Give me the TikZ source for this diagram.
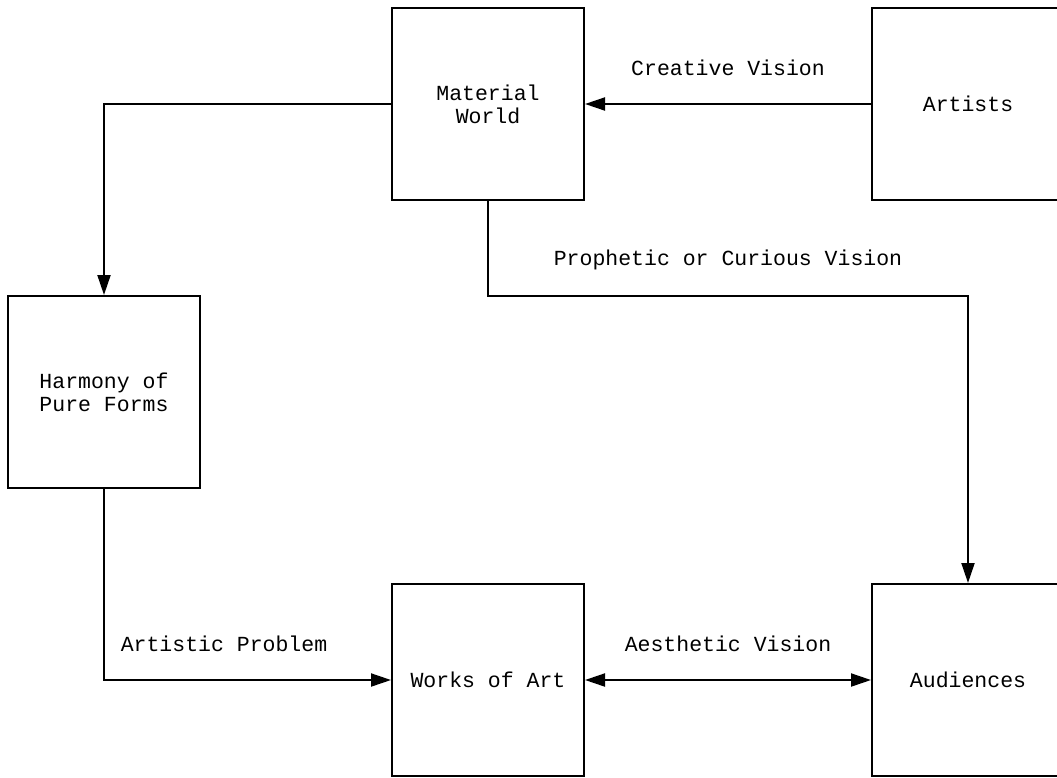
\documentclass[tikz,border=0pt]{standalone}
\usepackage{fontspec}
\setmonofont{Liberation Mono}
\usetikzlibrary{arrows.meta}
\begin{document}
\begin{tikzpicture}[x=1pt,y=-1pt,
  box/.style={draw,line width=2pt,minimum width=192pt,minimum height=192pt,inner sep=0pt,align=center,font=\ttfamily\fontsize{21.5}{23}\selectfont},
  lbl/.style={font=\ttfamily\fontsize{21.5}{23}\selectfont,inner sep=0pt},
  conn/.style={line width=2pt,-{Triangle[length=20pt,width=13pt]}},
  conn2/.style={line width=2pt,{Triangle[length=20pt,width=13pt]}-{Triangle[length=20pt,width=13pt]}}]
\path[use as bounding box,fill=white] (0,0) rectangle (1057,777);
\begin{scope}
\clip (0,0) rectangle (1057,777);
\node[box] (mw) at (488,104) {Material\\World};
\node[box] (ar) at (968,104) {Artists};
\node[box] (hp) at (104,392) {Harmony of\\Pure Forms};
\node[box] (wa) at (488,680) {Works of Art};
\node[box] (au) at (968,680) {Audiences};
\end{scope}
\draw[conn] (ar.west) -- (mw.east);
\draw[conn] (mw.west) -| (hp.north);
\draw[conn] (mw.south) |- (728,296) -| (au.north);
\draw[conn] (hp.south) |- (wa.west);
\draw[conn2] (wa.east) -- (au.west);
\node[lbl] (l1) at (728,68) {Creative Vision};
\node[lbl] (l2) at (728,260) {Prophetic or Curious Vision};
\node[lbl] (l3) at (224,644) {Artistic Problem};
\node[lbl] (l4) at (728,644) {Aesthetic Vision};
\end{tikzpicture}
\end{document}
